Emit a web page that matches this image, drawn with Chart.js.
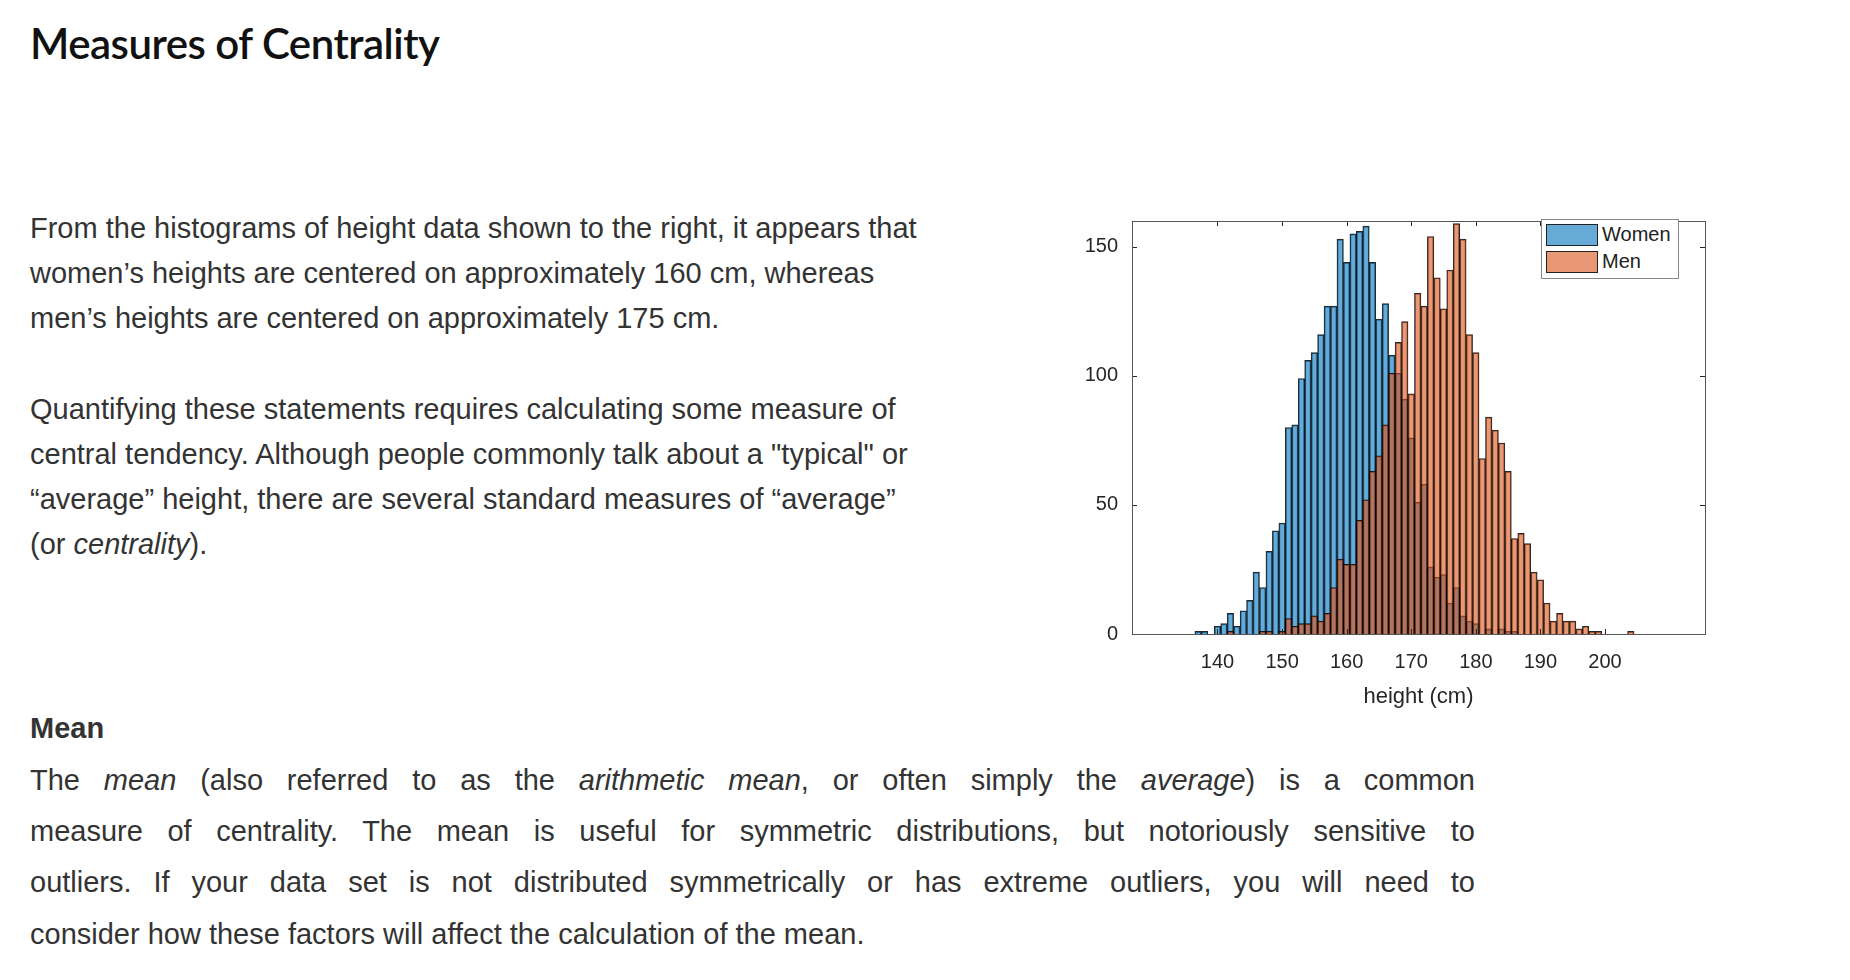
<!DOCTYPE html>
<html><head><meta charset="utf-8">
<script src="https://cdn.jsdelivr.net/npm/chart.js@4.4.1/dist/chart.umd.min.js"></script>
<style>
body{margin:0;background:#fff;width:1850px;height:980px;position:relative;overflow:hidden;font-family:"Liberation Sans",Arial,sans-serif;color:#333}
#title{position:absolute;left:30px;top:18px;font-family:Lato,sans-serif;font-weight:600;font-size:42px;color:#111;letter-spacing:-0.5px}
.p{position:absolute;left:30px;font-size:29px;line-height:45px}
#mean{position:absolute;left:30px;top:712px;font-size:29px;font-weight:bold}
.jl{position:absolute;left:30px;width:1445px;font-size:29px;text-align:justify;text-align-last:justify;white-space:nowrap}
.jl.last{text-align-last:left}
#wrap{position:absolute;left:1060px;top:195px;width:655px;height:519px}
#legend{position:absolute;left:1541px;top:219px;width:136px;height:58px;border:1px solid #888;background:#fff;font-size:20px;color:#222}
.li{position:absolute;left:4px;height:21px;display:flex;align-items:center}
.sw{width:50px;height:20px;border:1px solid #222;margin-right:4px}
</style></head><body>
<div id="title">Measures of Centrality</div>
<div class="p" style="top:206px">From the histograms of height data shown to the right, it appears that<br>women’s heights are centered on approximately 160 cm, whereas<br>men’s heights are centered on approximately 175 cm.</div>
<div class="p" style="top:387px">Quantifying these statements requires calculating some measure of<br>central tendency. Although people commonly talk about a "typical" or<br>“average” height, there are several standard measures of “average”<br>(or <i>centrality</i>).</div>
<div id="mean">Mean</div>
<div class="jl" style="top:764px;white-space:normal">The <i>mean</i> (also referred to as the <i>arithmetic mean</i>, or often simply the <i>average</i>) is a common</div>
<div class="jl" style="top:815px;white-space:normal">measure of centrality. The mean is useful for symmetric distributions, but notoriously sensitive to</div>
<div class="jl" style="top:866px;white-space:normal">outliers. If your data set is not distributed symmetrically or has extreme outliers, you will need to</div>
<div class="jl last" style="top:918px">consider how these factors will affect the calculation of the mean.</div>
<div id="wrap"><canvas id="c"></canvas></div>
<div id="legend">
<div class="li" style="top:4px"><div class="sw" style="background:rgba(0,114,189,0.6)"></div>Women</div>
<div class="li" style="top:31px"><div class="sw" style="background:rgba(217,83,25,0.6)"></div>Men</div>
</div>
<script>
const bins = [137,138,139,140,141,142,143,144,145,146,147,148,149,150,151,152,153,154,155,156,157,158,159,160,161,162,163,164,165,166,167,168,169,170,171,172,173,174,175,176,177,178,179,180,181,182,183,184,185,186,187,188,189,190,191,192,193,194,195,196,197,198,199,200,201,202,203,204];
const women = [1,1,0,3,4,8,3,9,13,24,18,32,40,43,80,81,99,106,109,116,127,127,153,144,155,156,158,144,122,128,108,101,91,76,51,58,26,22,23,12,18,7,5,4,0,2,0,2,1,1,0,0,0,0,0,0,0,0,0,0,0,0,0,0,0,0,0,0];
const men = [0,0,0,0,0,1,0,0,0,0,1,1,0,1,6,3,4,4,7,5,8,18,29,27,27,44,52,63,69,81,101,113,121,93,132,127,154,138,126,141,159,153,116,109,68,84,79,74,63,37,39,35,24,21,12,5,8,5,5,2,3,1,1,0,0,0,0,1];
const xTicks = [140,150,160,170,180,190,200];
const yTicks = [0,50,100,150];

const frame = {
  id:'frame',
  afterDatasetsDraw(chart){
    const {ctx, chartArea:a, scales:{x,y}} = chart;
    ctx.save();
    ctx.strokeStyle='#262626';ctx.lineWidth=1;
    xTicks.forEach(v=>{const px=Math.round(x.getPixelForValue(v))+0.5;
      ctx.beginPath();ctx.moveTo(px,a.bottom);ctx.lineTo(px,a.bottom-5);ctx.moveTo(px,a.top);ctx.lineTo(px,a.top+5);ctx.stroke();});
    yTicks.forEach(v=>{const py=Math.round(y.getPixelForValue(v))+0.5;
      ctx.beginPath();ctx.moveTo(a.left,py);ctx.lineTo(a.left+5,py);ctx.moveTo(a.right,py);ctx.lineTo(a.right-5,py);ctx.stroke();});
    ctx.strokeStyle='#555';
    ctx.strokeRect(Math.round(a.left)+0.5,Math.round(a.top)+0.5,Math.round(a.right-a.left),Math.round(a.bottom-a.top));
    ctx.restore();
  }
};

new Chart(document.getElementById('c'),{
  type:'bar',
  data:{datasets:[
    {label:'Women',data:bins.map((b,i)=>({x:b,y:women[i]})),backgroundColor:'rgba(0,114,189,0.6)',borderColor:'rgba(0,0,0,0.85)',borderWidth:1,order:2,grouped:false,barPercentage:1,categoryPercentage:1},
    {label:'Men',data:bins.map((b,i)=>({x:b,y:men[i]})),backgroundColor:'rgba(217,83,25,0.6)',borderColor:'rgba(0,0,0,0.85)',borderWidth:1,order:1,grouped:false,barPercentage:1,categoryPercentage:1}
  ]},
  options:{
    responsive:true,maintainAspectRatio:false,animation:false,
    layout:{padding:{top:7,right:10,left:0,bottom:0}},
    plugins:{legend:{display:false},tooltip:{enabled:false}},
    scales:{
      x:{type:'linear',min:133.1,max:209.15,
        afterBuildTicks(s){s.ticks=xTicks.map(v=>({value:v}));},
        afterFit(s){s.height=80;},
        grid:{display:false,drawTicks:false},border:{display:false},
        ticks:{color:'#262626',font:{family:'Liberation Sans',size:20},padding:16,maxRotation:0},
        title:{display:true,text:'height (cm)',color:'#262626',font:{family:'Liberation Sans',size:22},padding:{top:2}}},
      y:{min:0,max:160,
        afterBuildTicks(s){s.ticks=yTicks.map(v=>({value:v}));},
        afterFit(s){s.width=72;},
        grid:{display:false,drawTicks:false},border:{display:false},
        ticks:{color:'#262626',font:{family:'Liberation Sans',size:20},padding:14}}
    }
  },
  plugins:[frame]
});
</script>
</body></html>
